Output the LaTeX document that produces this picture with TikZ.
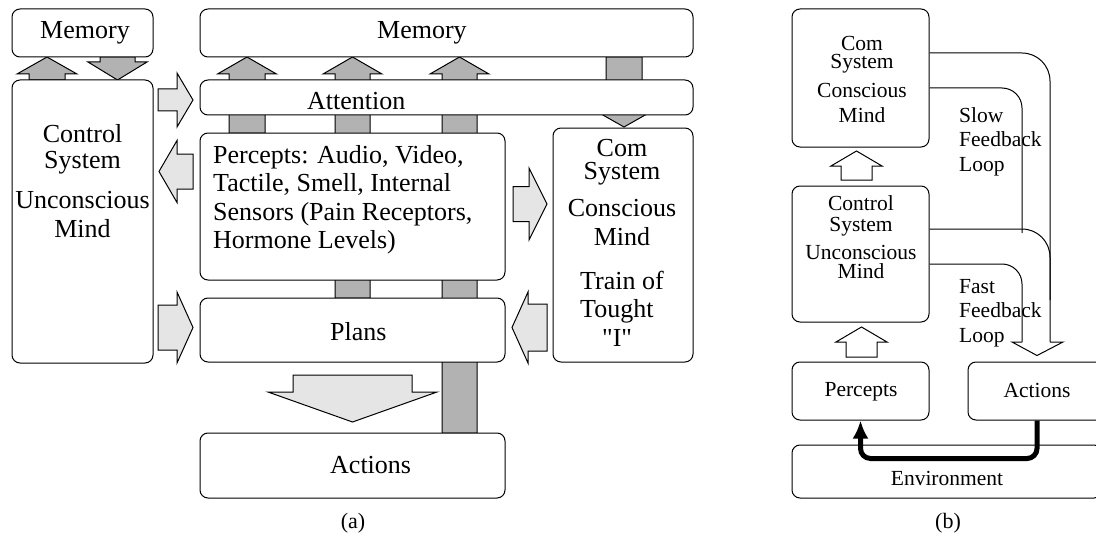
\documentclass[tikz,border=0pt]{standalone}
\usepackage{fontspec}
\setmainfont{Liberation Serif}
\newfontfamily\plainserif{Liberation Serif}
\usetikzlibrary{arrows.meta,backgrounds}

\tikzset{
  box/.style={draw, rounded corners=8, fill=white, line width=1pt, inner sep=0},
  bigtxt/.style={font=\fontsize{26}{28.5}\selectfont, inner sep=0, align=center},
  smalltxt/.style={font=\fontsize{21.5}{24.5}\selectfont, inner sep=0, align=center},
  captxt/.style={font=\fontsize{22}{24}\selectfont, inner sep=0},
  % fat arrow from the tail: length, half shaft, half head, head length
  pics/fatarr/.style n args={4}{code={
    \draw[pic actions, line width=1pt] (0,-#2) -- ({#1-#4},-#2) -- ({#1-#4},-#3) -- (#1,0)
      -- ({#1-#4},#3) -- ({#1-#4},#2) -- (0,#2) -- cycle;
  }},
  darkfat/.style={draw, fill=black!30},
  lightfat/.style={draw, fill=black!10},
  whitefat/.style={draw, fill=white},
  fbline/.style={line width=1pt, rounded corners=28},
  thickfb/.style={line width=5pt, rounded corners=10, -{Latex[length=18pt,width=16pt]}}
}

\begin{document}
\begin{tikzpicture}[x=1pt,y=-1pt]
\useasboundingbox (0,0) rectangle (1096,535);

% (a) boxes
\node[box, minimum width=141, minimum height=48] (memL) at (82.5,33) {};
\node[box, minimum width=493, minimum height=48] (memR) at (446.5,33) {};
\node[box, minimum width=141, minimum height=283] (ctrl) at (82.5,221.5) {};
\node[box, minimum width=493, minimum height=35] (attn) at (446.5,97.5) {};
\node[box, minimum width=305, minimum height=147] (perc) at (352.5,206.5) {};
\node[box, minimum width=140, minimum height=234] (com) at (623,245) {};
\node[box, minimum width=305, minimum height=64] (plans) at (352.5,330) {};
\node[box, minimum width=305, minimum height=65] (act) at (352.5,465.5) {};

% (a) gray arrows, behind the boxes
\begin{scope}[on background layer]
  \pic[darkfat, rotate=90] (ctrl2mem) at (47,80) {fatarr={23}{18}{30}{17}};
  \pic[darkfat, rotate=-90] (mem2ctrl) at (117.5,57) {fatarr={23}{17.5}{29.5}{18}};
  \pic[darkfat, rotate=90] (perc2mem) at (247,133) {fatarr={76}{18}{29.5}{17}};
  \pic[darkfat, rotate=90] (plans2mem) at (352.5,298) {fatarr={241}{17.5}{29.5}{17}};
  \pic[darkfat, rotate=90] (act2mem) at (459.5,433) {fatarr={376}{17.5}{29.5}{17}};
  \pic[darkfat, rotate=-90] (mem2com) at (624,57) {fatarr={70}{18}{30}{17}};
\end{scope}

% (a) light arrows
\pic[lightfat] (ctrl2attn) at (158,100) {fatarr={35}{11}{27}{16}};
\pic[lightfat, rotate=180] (perc2ctrl) at (193,171.5) {fatarr={34}{17.5}{31}{18}};
\pic[lightfat] (perc2com) at (513,204) {fatarr={34}{17.5}{36}{18}};
\pic[lightfat] (ctrl2plans) at (158,327.5) {fatarr={35}{22.5}{35.5}{16}};
\pic[lightfat, rotate=180] (com2plans) at (547,327.5) {fatarr={35}{23.5}{35.5}{16}};
\pic[lightfat, rotate=-90] (plans2act) at (352.5,375) {fatarr={47}{59.5}{84.5}{30}};

% (a) texts
\node[bigtxt, anchor=base] (memLt) at (85,39) {Memory};
\node[bigtxt, anchor=base west] (memRt) at (377,39) {Memory};
\node[bigtxt, anchor=base west] (attnt) at (307,110) {Attention};
\node[bigtxt, anchor=base] (ctrlt) at (82.5,237) {Control\\[-2.5pt]System\\[11.5pt]Unconscious\\Mind};
\node[bigtxt, anchor=base west, align=left] (perct) at (213,248.5)
  {Percepts: Audio, Video,\\Tactile, Smell, Internal\\Sensors (Pain Receptors,\\Hormone Levels)};
\node[bigtxt, anchor=base] (comt) at (622,245) {Com\\[-5.5pt]System\\[8.5pt]Conscious\\Mind};
\node[bigtxt, anchor=base west, align=left] (traint) at (580,346) {Train of\\Tought\\\hspace*{22pt}{\plainserif "I"}};
\node[bigtxt, anchor=base west] (planst) at (330,340) {Plans};
\node[bigtxt, anchor=base west] (actt) at (330,473) {Actions};
\node[captxt, anchor=base] (capa) at (353,528) {(a)};

% (b) boxes
\node[box, minimum width=137, minimum height=138] (bcom) at (860.5,78) {};
\node[box, minimum width=137, minimum height=136] (bctrl) at (860.5,254) {};
\node[box, minimum width=137, minimum height=58] (bperc) at (860.5,391) {};
\node[box, minimum width=138, minimum height=58] (bact) at (1037,391) {};
\node[box, minimum width=310, minimum height=53] (env) at (947,471.5) {};

\pic[whitefat, rotate=90] (bctrl2com) at (856.5,180) {fatarr={29}{15.5}{25.5}{15}};
\pic[whitefat, rotate=90] (bperc2ctrl) at (861.5,357) {fatarr={30}{15.5}{25.5}{15}};

% feedback loops
\coordinate (headtip) at ([yshift=6pt]bact.north);
\draw[fbline] ([yshift=25pt]bcom.east) -| (1050,342);
\draw[fbline, rounded corners=20] ([yshift=-10pt]bcom.east) -| (1022,233);
\draw[fbline] ([yshift=25pt]bctrl.east) -| (1050,300);
\draw[fbline, rounded corners=20] ([yshift=-10pt]bctrl.east) -| (1022,342);
\draw[line width=1pt] (1022,342) -- (1012,342) -- (headtip) -- (1063,342) -- (1050,342);

\draw[thickfb] (bact.south) -- ++(0,38) -| (bperc.south);

% (b) texts
\node[smalltxt, anchor=base] (bcomt) at (862,122) {Com\\[-6.5pt]System\\[4.5pt]Conscious\\Mind};
\node[smalltxt, anchor=base] (bctrlt) at (861,278) {Control\\[-3.5pt]System\\[3.5pt]Unconscious\\[-5.5pt]Mind};
\node[smalltxt, anchor=base west, align=left] (slowt) at (959,171) {Slow\\Feedback\\Loop};
\node[smalltxt, anchor=base west, align=left] (fastt) at (959,342) {Fast\\Feedback\\Loop};
\node[smalltxt, anchor=base] (bperct) at (861,396) {Percepts};
\node[smalltxt, anchor=base] (bactt) at (1037,397) {Actions};
\node[smalltxt, anchor=base] (envt) at (947,485) {Environment};
\node[captxt, anchor=base] (capb) at (948,528) {(b)};
\end{tikzpicture}
\end{document}
